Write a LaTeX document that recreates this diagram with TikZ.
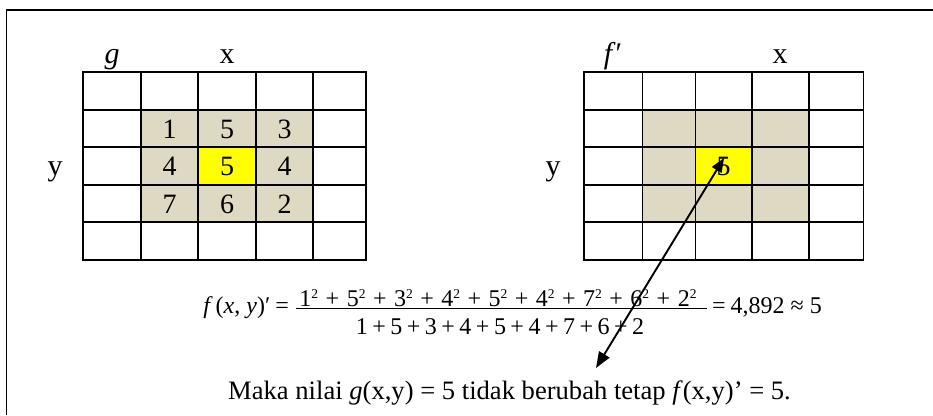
\documentclass[tikz,border=0pt]{standalone}
\usepackage{fontspec}
\setmainfont{Liberation Serif}
\usetikzlibrary{arrows.meta}
\definecolor{cellshade}{RGB}{221,217,195}
\definecolor{cellyellow}{RGB}{255,255,0}
\newcommand\sqd[1]{#1\raisebox{8.5pt}{\fontsize{13.5}{13.5}\selectfont 2}}
\newcommand\pln{\hspace{7.5pt}+\hspace{7.5pt}}
\newcommand\pld{\hspace{4.5pt}+\hspace{4.5pt}}
\begin{document}
\begin{tikzpicture}[x=1pt,y=-1pt,
  gridline/.style={line width=1.4pt},
  digit/.style={font=\fontsize{28}{32}\selectfont, inner sep=0pt, anchor=base},
  axislab/.style={font=\fontsize{30}{34}\selectfont, inner sep=0pt, anchor=base},
  eqtext/.style={font=\fontsize{24}{28}\selectfont, inner sep=0pt},
  bodytext/.style={font=\fontsize{26.6}{30}\selectfont, inner sep=0pt, anchor=base west},
  arrowline/.style={line width=1.9pt, {Triangle[length=16pt,width=12pt]}-{Triangle[length=14pt,width=11pt]}}
]
\useasboundingbox (0,0) rectangle (933,415);
\fill[white] (0,0) rectangle (933,415);
% frame
\draw[line width=1.7pt] (6.5,415) -- (6.5,10) -- (933,10);

% left grid
\fill[cellshade] (141,110) rectangle (313,222);
\fill[cellyellow] (198,147) rectangle (256,185);
\foreach \x in {141,198,256,313} \draw[gridline] (\x,72) -- (\x,260);
\foreach \y in {110,147,185,222} \draw[gridline] (83,\y) -- (366,\y);
\draw[gridline] (83,72) rectangle (366,260);

\node[digit] (g11) at (169.7,138) {1};
\node[digit] (g12) at (227.2,138) {5};
\node[digit] (g13) at (284.7,138) {3};
\node[digit] (g21) at (169.7,175.5) {4};
\node[digit] (g22) at (227.2,175.5) {5};
\node[digit] (g23) at (284.7,175.5) {4};
\node[digit] (g31) at (169.7,213) {7};
\node[digit] (g32) at (227.2,213) {6};
\node[digit] (g33) at (284.7,213) {2};

\node[axislab] (glab) at (112,63) {\textit{g}};
\node[axislab] (gx) at (227,63) {x};
\node[axislab] (gy) at (55,175) {y};

% right grid
\fill[cellshade] (642.3,110) rectangle (809,222);
\fill[cellyellow] (695.3,147) rectangle (752,185);
\foreach \x in {642.3,695.3,752,809} \draw[gridline] (\x,72) -- (\x,260);
\foreach \y in {110,147,185,222} \draw[gridline] (584,\y) -- (863.3,\y);
\draw[gridline] (584,72) rectangle (863.3,260);

\node[digit] (f22) at (723.6,175.5) {5};
\node[axislab] (flab) at (613,63) {\textit{f}′};
\node[axislab] (fx) at (780,63) {x};
\node[axislab] (fy) at (553,175) {y};

% equation
\node[eqtext, anchor=base east] (lhs) at (289,313) {\textit{f}\hspace{3pt}(\textit{x}, \textit{y})′\hspace{5pt}=};
\node[eqtext, anchor=base] (num) at (498,306.5) {\sqd{1}\pln\sqd{5}\pln\sqd{3}\pln\sqd{4}\pln\sqd{5}\pln\sqd{4}\pln\sqd{7}\pln\sqd{6}\pln\sqd{2}};
\node[eqtext, anchor=base] (den) at (500,334) {1\pld 5\pld 3\pld 4\pld 5\pld 4\pld 7\pld 6\pld 2};
\draw[line width=1pt] (296,308.3) -- (707,308.3);
\node[eqtext, anchor=base west] (rhs) at (712,313) {=\hspace{5pt}4,892\hspace{6pt}≈\hspace{6pt}5};

% conclusion
\node[bodytext] (concl) at (228,399) {Maka nilai \textit{g}(x,y) = 5 tidak berubah tetap \textit{f}(x,y)’ = 5.};

% arrow
\coordinate (atop) at (724,158);
\coordinate (abot) at (596,368);
\draw[arrowline] (abot) -- (atop);
\end{tikzpicture}
\end{document}
